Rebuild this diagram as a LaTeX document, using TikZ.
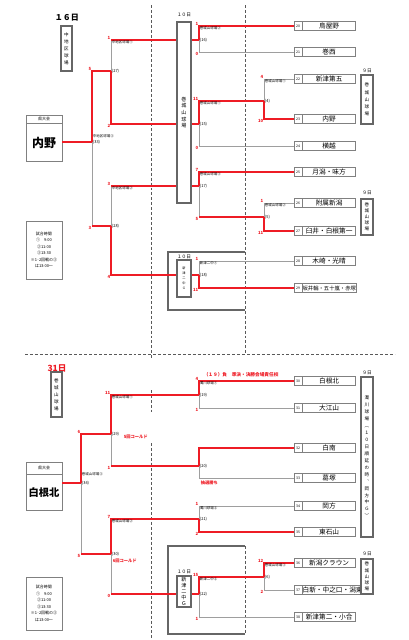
\documentclass[tikz,border=0pt]{standalone}
\usepackage{fontspec}
\setmainfont{Noto Sans CJK JP}
\usetikzlibrary{positioning}
\definecolor{winred}{HTML}{EE1C25}

\tikzset{
  winline/.style={draw=winred, line width=1.1pt},
  loseline/.style={draw=black!38, line width=0.7pt},
  sepline/.style={draw=black!65, line width=0.75pt, dash pattern=on 2.2pt off 1.5pt},
  boxline/.style={draw=black!60, line width=0.9pt},
  numcell/.style={draw=black!50, line width=0.45pt, fill=white, inner sep=0pt,
    minimum width=6pt, minimum height=6.75pt, font=\fontsize{2.6}{3}\selectfont},
  namecell/.style={draw=black!50, line width=0.45pt, fill=white, inner sep=0pt,
    minimum width=39.75pt, minimum height=6.75pt, font=\fontsize{5}{6}\selectfont},
  vbox/.style={boxline, fill=white, inner sep=0pt, align=center,
    font=\fontsize{3.4}{5.2}\selectfont},
  score/.style={text=winred, inner sep=0.4pt, font=\fontsize{3.2}{3.5}\selectfont\bfseries},
  venue/.style={inner sep=0.5pt, font=\fontsize{2.6}{3}\selectfont},
  mnum/.style={inner sep=0.5pt, font=\fontsize{3}{3.5}\selectfont},
  daylabel/.style={inner sep=0pt, font=\fontsize{3.5}{4}\selectfont},
  note/.style={text=winred, inner sep=0.4pt, font=\fontsize{3.2}{3.5}\selectfont\bfseries},
  kenhead/.style={draw=black!50, line width=0.6pt, fill=white, inner sep=0pt,
    minimum width=27pt, font=\fontsize{3}{3.5}\selectfont},
  kenname/.style={draw=black!50, line width=0.6pt, fill=white, inner sep=0pt,
    minimum width=27pt, font=\bfseries},
  timebox/.style={draw=black!50, line width=0.6pt, fill=white, inner sep=0pt, align=center,
    minimum width=27pt, font=\fontsize{3}{4.9}\selectfont}
}

\begin{document}
\begin{tikzpicture}[x=0.75pt, y=-0.75pt]
\useasboundingbox (0,0) rectangle (408,640);

%%% separators
\draw[sepline] (151,5) -- (151,358);
\draw[sepline] (245,5) -- (245,354);
\draw[sepline] (25,354) -- (395,354);
\draw[sepline] (151,390) -- (151,412);
\draw[sepline] (151,443) -- (151,640);
\draw[sepline] (245,546) -- (245,634);
\draw[boxline] (245,252) -- (168,252) -- (168,310) -- (245,310);
\draw[boxline] (245,546) -- (168,546) -- (168,634) -- (245,634);

%%% teams
\foreach \n/\y/\name in {20/26/鳥屋野, 21/52/巻西, 22/79/新津第五, 23/119/内野,
  24/146/横越, 25/172/月潟・味方, 26/203/附属新潟, 27/231/臼井・白根第一,
  28/261/木崎・光晴, 29/288/{\fontsize{4}{5}\selectfont 坂井輪・五十嵐・赤塚},
  30/381/白根北, 31/408/大江山, 32/448/白南, 33/478/葛塚, 34/506/岡方,
  35/532/東石山, 36/563/新潟クラウン, 37/590/白新・中之口・潟東, 38/617/新津第二・小合}
{
  \node[numcell] (n\n) at (298,\y) {\n};
  \node[namecell, anchor=west] (team\n) at (n\n.east) {\name};
}

%%% match points: top corner, join, bottom corner
\foreach \k/\x/\yt/\y/\yb in {16/199/26/40/52, 15/199/101/124/146, 4/264/79/101/119,
  17/199/172/186/217, 5/264/203/217/231, 18/199/261/275/288,
  27/111/40/71/124, 28/111/186/226/275, 33/92/71/142/226,
  19/199/381/395/408, 20/199/448/466/478, 21/199/506/519/532,
  6/264/563/577/590, 22/199/577/594/617,
  29/111/395/434/466, 30/111/519/554/594, 34/81/434/483/554}
{
  \coordinate (t\k) at (\x,\yt);
  \coordinate (m\k) at (\x,\y);
  \coordinate (b\k) at (\x,\yb);
}

%%% losing sides
\draw[loseline] (n21.west) -- (b16) -- (m16);
\draw[loseline] (n22.west) -- (t4) -- (m4);
\draw[loseline] (n24.west) -- (b15) -- (m15);
\draw[loseline] (b17) -- (m17);
\draw[loseline] (n26.west) -- (t5) -- (m5);
\draw[loseline] (n28.west) -- (t18) -- (m18);
\draw[loseline] (t27) -- (m27);
\draw[loseline] (t28) -- (m28);
\draw[loseline] (b33) -- (m33);
\draw[loseline] (n31.west) -- (b19) -- (m19);
\draw[loseline] (n33.west) -- (b20) -- (m20);
\draw[loseline] (n34.west) -- (t21) -- (m21);
\draw[loseline] (n37.west) -- (b6) -- (m6);
\draw[loseline] (n38.west) -- (b22) -- (m22);
\draw[loseline] (b29) -- (m29);
\draw[loseline] (b30) -- (m30);
\draw[loseline] (b34) -- (m34);

%%% winning sides
\draw[winline] (n20.west) -- (t16) -- (m16);
\draw[winline] (n23.west) -- (b4) -- (m4);
\draw[winline] (m4) -- (t15) -- (m15);
\draw[winline] (n25.west) -- (t17) -- (m17);
\draw[winline] (m5) -- (b17);
\draw[winline] (n27.west) -- (b5) -- (m5);
\draw[winline] (n29.west) -- (b18) -- (m18);
\draw[winline] (m16) -- (t27);
\draw[winline] (m15) -- (b27) -- (m27);
\draw[winline] (m17) -- (t28);
\draw[winline] (m18) -- (b28) -- (m28);
\draw[winline] (m27) -- (t33) -- (m33);
\draw[winline] (m28) -- (b33);
\draw[winline] (n30.west) -- (t19) -- (m19);
\draw[winline] (n32.west) -- (t20) -- (m20);
\draw[winline] (n35.west) -- (b21) -- (m21);
\draw[winline] (n36.west) -- (t6) -- (m6);
\draw[winline] (m6) -- (t22) -- (m22);
\draw[winline] (m19) -- (t29) -- (m29);
\draw[winline] (m20) -- (b29);
\draw[winline] (m21) -- (t30) -- (m30);
\draw[winline] (m22) -- (b30);
\draw[winline] (m29) -- (t34) -- (m34);
\draw[winline] (m30) -- (b34);

%%% venue boxes
\node[daylabel, font=\fontsize{6}{7}\selectfont\bfseries] (day16) at (67,18) {１６日};
\node[vbox, minimum width=8.25pt, minimum height=33.75pt] (nakaA) at (66.5,48.5) {中\\地\\区\\球\\場};
\node[daylabel] (dayA) at (184,15) {１０日};
\node[vbox, minimum width=10.5pt, minimum height=135.75pt, font=\fontsize{3.8}{5}\selectfont] (makiA) at (184,112.5) {巻\\城\\山\\球\\場};
\node[daylabel] (dayB) at (184,257) {１０日};
\node[vbox, minimum width=10.5pt, minimum height=27.75pt, font=\fontsize{2.4}{3.8}\selectfont] (niitsuA) at (184,278.5) {新\\津\\二\\中\\Ｇ};
\node[daylabel] (ninA) at (367,71) {９日};
\node[vbox, minimum width=9pt, minimum height=36.75pt, font=\fontsize{3.4}{5.4}\selectfont] (makiC) at (367,99.5) {巻\\城\\山\\球\\場};
\node[daylabel] (ninB) at (367,193) {９日};
\node[vbox, minimum width=9pt, minimum height=27pt, font=\fontsize{3.4}{4.6}\selectfont] (makiD) at (367,217) {巻\\城\\山\\球\\場};

\node[daylabel, text=winred, font=\fontsize{6.4}{7}\selectfont\bfseries] (day31) at (57,368) {31日};
\node[vbox, minimum width=8.25pt, minimum height=33.75pt] (makiB) at (56.5,394.5) {巻\\城\\山\\球\\場};
\node[daylabel] (dayC) at (184,572) {１０日};
\node[vbox, minimum width=10.5pt, minimum height=23.25pt, font=\fontsize{3.8}{4.5}\selectfont] (niitsuB) at (184,591.5) {新\\津\\二\\中\\Ｇ};
\node[daylabel] (ninC) at (367,373) {９日};
\node[vbox, minimum width=9pt, minimum height=120pt, font=\fontsize{3.4}{5.2}\selectfont] (nigori) at (367,457) {濁\\川\\球\\場\\︵\\１\\０\\日\\順\\延\\の\\時\\︑\\岡\\方\\中\\Ｇ\\︶};
\node[daylabel] (ninD) at (367,554) {９日};
\node[vbox, minimum width=9pt, minimum height=26.25pt, font=\fontsize{3.4}{4.6}\selectfont] (makiE) at (367,576.5) {巻\\城\\山\\球\\場};

%%% prefectural boxes
\node[kenhead, minimum height=6pt] (kenA) at (44,119) {県大会};
\node[kenname, minimum height=28.5pt, below=0pt of kenA, font=\fontsize{9}{10}\selectfont\bfseries] (uchino) {内野};
\draw[winline] (m33) -- (m33 -| uchino.east);
\node[timebox, minimum height=43.5pt] (timeA) at (44,250) {試合時間\\①　9:00\\②11:00\\③13:30\\※1･2回戦の③\\は13:00～};

\node[kenhead, minimum height=9pt] (kenB) at (44,468) {県大会};
\node[kenname, minimum height=27pt, below=0pt of kenB, font=\fontsize{7.7}{9}\selectfont\bfseries] (shirone) {白根北};
\draw[winline] (m34) -- (m34 -| shirone.east);
\node[timebox, minimum height=39.75pt] (timeB) at (44,603.5) {試合時間\\①　9:00\\②11:00\\③13:30\\※1･2回戦の③\\は13:00～};

%%% labels
\foreach \k/\v in {16/巻城山球場②, 15/巻城山球場①, 4/巻城山球場①, 17/巻城山球場③,
  5/巻城山球場②, 18/新津二中①, 27/中地区球場①, 28/中地区球場②, 19/濁川球場①,
  21/濁川球場②, 6/巻城山球場③, 22/新津二中②, 29/巻城山球場①, 30/巻城山球場②}
  \node[venue, anchor=north west] at (t\k) {\v};
\node[venue, anchor=south west] at ([yshift=2.25pt]m33) {中地区球場③};
\node[venue, anchor=south west] at ([yshift=5pt]m34) {巻城山球場③};
\foreach \k in {16,15,4,17,5,18,27,28,33,19,20,21,6,22,29,30,34}
  \node[mnum, anchor=west] at (m\k) {(\k)};
\foreach \k/\s/\r in {16/1/0, 15/11/0, 4/4/10, 17/7/5, 5/1/11, 18/1/11, 27/1/2, 28/3/4,
  33/5/3, 19/4/1, 21/1/2, 6/12/2, 22/15/1, 29/11/1, 30/7/0, 34/6/5}
{
  \node[score, anchor=south east] at (t\k) {\s};
  \node[score, anchor=north east] at (b\k) {\r};
}
\node[note, anchor=west, font=\fontsize{3.5}{4}\selectfont\bfseries] (note19) at (203,375) {（１９）負　準決・決勝会場責任校};
\node[note, anchor=west] (cold5) at (123,437) {5回コールド};
\node[note, anchor=west] (lottery) at (200,483) {抽選勝ち};
\node[note, anchor=west] (cold6) at (112,561) {6回コールド};
\end{tikzpicture}
\end{document}
